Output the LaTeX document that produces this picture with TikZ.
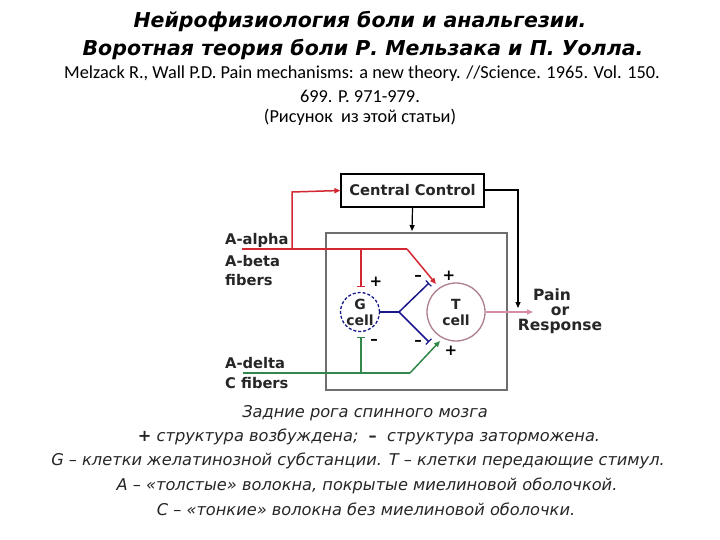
\documentclass[tikz,border=0pt]{standalone}
\usepackage{fontspec}
\setmainfont{DejaVu Sans}
\newfontfamily\calib{Carlito}
\usetikzlibrary{arrows.meta}
\definecolor{fred}{RGB}{210,40,50}
\definecolor{fgreen}{RGB}{50,135,75}
\definecolor{fblue}{RGB}{25,25,140}
\definecolor{fgray}{RGB}{110,110,110}
\definecolor{tcol}{RGB}{175,125,140}
\definecolor{fpink}{RGB}{215,140,170}
\tikzset{
  title/.style={font=\fontsize{20.5}{24}\selectfont\bfseries\itshape, anchor=center, inner sep=0pt},
  ref/.style={font=\calib\fontsize{18.3}{21}\selectfont, anchor=center, inner sep=0pt},
  capt/.style={font=\fontsize{16.2}{19}\selectfont\itshape, text=black!85, anchor=center, inner sep=0pt},
  lab/.style={font=\fontsize{14.7}{17}\selectfont\bfseries, text=black!85, inner sep=0pt},
  sign/.style={font=\fontsize{15}{15}\selectfont\bfseries, inner sep=0pt},
  tip/.style={-{Triangle[length=6pt,width=5pt]}},
  bar/.style={-{Bar[width=8pt,line width=1.2pt]}},
}
\begin{document}
\begin{tikzpicture}[x=1pt,y=-1pt]
\useasboundingbox[fill=white] (0,0) rectangle (720,540);
% titles
\node[title] (t1) at (360,22) {Нейрофизиология боли и анальгезии.};
\node[title] (t2) at (363,50) {Воротная теория боли Р. Мельзака и П. Уолла.};
\node[ref] (r1) at (362,74) {Melzack R., Wall P.D. Pain mechanisms: a new theory. //Science. 1965. Vol. 150.};
\node[ref] (r2) at (360,96) {699. P. 971-979.};
\node[ref] (r3) at (360,117) {(Рисунок\ \ из этой статьи)};
% diagram
\node[draw=fgray, line width=1.4pt, minimum width=181pt, minimum height=157pt, inner sep=0pt] (cord) at (416.5,311.5) {};
\node[draw=black, line width=1.2pt, minimum width=143pt, minimum height=33pt, inner sep=0pt, lab] (cc) at (412.5,190.5) {Central Control};
\node[draw=fblue, line width=1.3pt, densely dashed, circle, minimum size=39pt, inner sep=0pt, align=center, lab, font=\fontsize{14}{16}\selectfont\bfseries] (G) at (360,312) {G\\cell};
\node[draw=tcol, line width=1.3pt, circle, minimum size=58pt, inner sep=0pt, align=center, lab, font=\fontsize{14}{16}\selectfont\bfseries] (T) at (456,312) {T\\cell};
% labels
\node[lab, anchor=west] (la1) at (225,240) {A-alpha};
\node[lab, anchor=west] (la2) at (225,261) {A-beta};
\node[lab, anchor=west] (la3) at (225,280) {fibers};
\node[lab, anchor=west] (ld1) at (225,363) {A-delta};
\node[lab, anchor=west] (ld2) at (225,383) {C fibers};
\node[lab, anchor=center, align=center, font=\fontsize{15.5}{15}\selectfont\bfseries] (pain) at (560,311) {Pain\hspace*{16pt}\\or\hspace*{18pt}\\Response};
% coordinates
\coordinate (aS) at (242,249);
\coordinate (aUp) at (292,249);
\coordinate (aTop) at (292,192);
\coordinate (aG) at (361,249);
\coordinate (aBend) at (407,249);
\coordinate (aEnd) at (436,284);
\coordinate (cS) at (243,373);
\coordinate (cG) at (361,373);
\coordinate (cBend) at (410,373);
\coordinate (cEnd) at (440,341);
\coordinate (bJ) at (399,312);
\coordinate (bU) at (429,283);
\coordinate (bD) at (429,342);
\coordinate (ccR) at (518,190);
\coordinate (ccD) at (518,308);
% red fibers
\draw[fred, line width=1.5pt] (aS) -- (aBend);
\draw[fred, line width=1.5pt, tip] (aBend) -- (aEnd);
\draw[fred, line width=1.5pt, tip] (aUp) -- (aTop) -- (cc.west);
\draw[fred, line width=1.5pt, bar] (aG) -- (361,287);
% green fibers
\draw[fgreen, line width=1.5pt] (cS) -- (cBend);
\draw[fgreen, line width=1.5pt, tip] (cBend) -- (cEnd);
\draw[fgreen, line width=1.5pt, bar] (cG) -- (361,337);
% blue G output
\draw[fblue, line width=1.5pt] (G.east) -- (bJ);
\draw[fblue, line width=1.5pt, bar] (bJ) -- (bU);
\draw[fblue, line width=1.5pt, bar] (bJ) -- (bD);
% central control outputs
\draw[black, line width=1.2pt, tip] (cc.south) -- (412,231);
\draw[black, line width=1.2pt, tip] (cc.east |- ccR) -- (ccR) -- (ccD);
% T output
\draw[fpink, line width=1.8pt, tip] (T.east) -- (533,312);
% signs
\node[sign] (s1) at (376,282) {+};
\node[sign] (s2) at (374,342) {–};
\node[sign] (s3) at (418,278) {–};
\node[sign] (s4) at (418,343) {–};
\node[sign] (s5) at (449,276) {+};
\node[sign] (s6) at (451,351) {+};
% caption
\node[capt] (c1) at (365,413) {Задние рога спинного мозга};
\node[capt] (c2) at (369,437) {{\upshape\bfseries +} структура возбуждена;\ \ {\upshape\bfseries –}\ \ структура заторможена.};
\node[capt] (c3) at (358,461) {G – клетки желатинозной субстанции. Т – клетки передающие стимул.};
\node[capt] (c4) at (367,486) {А – «толстые» волокна, покрытые миелиновой оболочкой.};
\node[capt] (c5) at (366,509) {С – «тонкие» волокна без миелиновой оболочки.};
\end{tikzpicture}
\end{document}
